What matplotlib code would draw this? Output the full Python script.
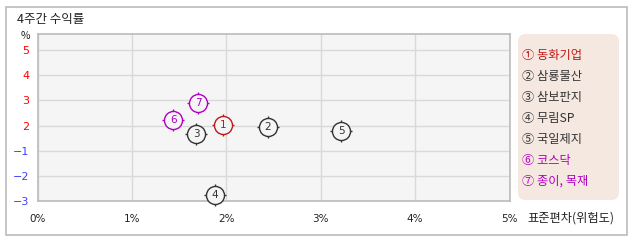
import matplotlib
matplotlib.use("Agg")
import matplotlib.pyplot as plt
from matplotlib.patches import FancyBboxPatch, Rectangle

plt.rcParams['font.family'] = ['Noto Sans CJK KR', 'DejaVu Sans']

# data (x = std dev %, y = position on the 4-week return axis)
names = ['동화기업', '삼룡물산', '삼보판지', '무림SP', '국일제지', '코스닥', '종이, 목재']
circled = ['①', '②', '③', '④', '⑤', '⑥', '⑦']
risk = [1.97, 2.44, 1.68, 1.88, 3.22, 1.44, 1.70]
ret = [2.04, 1.95, 1.67, -0.75, 1.79, 2.23, 2.89]
colors = ['#c01818', '#333333', '#333333', '#333333', '#333333', '#b000c0', '#b000c0']

ytick_pos = [5, 4, 3, 2, 1, 0, -1]
ytick_lab = ['5', '4', '3', '2', '\u22121', '\u22122', '\u22123']
ytick_col = ['#ff0000'] * 4 + ['#4040ff'] * 3
xtick_pos = [0, 1, 2, 3, 4, 5]
xtick_lab = ['0%', '1%', '2%', '3%', '4%', '5%']

W, H = 638, 242
fig = plt.figure(figsize=(W / 100, H / 100), dpi=100)

# outer frame
fig.patches.append(Rectangle((6 / W, 1 - 235 / H), 621 / W, 228 / H, transform=fig.transFigure,
                             fill=False, edgecolor='#bbbbbb', linewidth=1.2))
fig.text(17 / W, 1 - 20 / H, '4주간 수익률', fontsize=9, va='center', ha='left', color='#222222')

L, R, T, B = 37.5, 509.5, 34, 201
ax = fig.add_axes([L / W, 1 - B / H, (R - L) / W, (B - T) / H])
ax.set_facecolor('#f5f5f5')
ax.set_xlim(0, 5)
ax.set_ylim(-1, 5 + 16 / 25)
for s in ax.spines.values():
    s.set_color('#bbbbbb')
    s.set_linewidth(1.2)
ax.set_xticks(xtick_pos)
ax.set_yticks(ytick_pos)
ax.grid(True, color='#d9d9d9', linewidth=1)
ax.set_axisbelow(True)
ax.tick_params(length=0, pad=6)
ax.set_xticklabels(xtick_lab, fontsize=7.5, color='#222222', family='DejaVu Sans')
ax.set_yticklabels(ytick_lab, fontsize=8, family='DejaVu Sans')
for t, c in zip(ax.get_yticklabels(), ytick_col):
    t.set_color(c)
ax.tick_params(axis='x', pad=9)

for i in range(len(names)):
    ax.plot(risk[i], ret[i], marker='+', markersize=15.5, color=colors[i], mew=1, zorder=3, clip_on=False)
    ax.plot(risk[i], ret[i], marker='o', markersize=13, color=colors[i], mfc='#f5f5f5', mew=1,
            zorder=4, clip_on=False)
    ax.text(risk[i], ret[i], str(i + 1), fontsize=7.5, color=colors[i], ha='center', va='center',
            zorder=5, family='DejaVu Sans')

fig.text(25 / W, 1 - 36 / H, '%', fontsize=7.5, ha='center', va='center', color='#222222')
fig.text(527 / W, 1 - 218 / H, '표준편차(위험도)', fontsize=8.8, ha='left', va='center', color='#222222')

# legend box
fig.patches.append(FancyBboxPatch((518 / W, 1 - 200 / H), 101 / W, 166 / H, transform=fig.transFigure,
                                  boxstyle='round,pad=0,rounding_size=0.012',
                                  facecolor='#f5e8e0', edgecolor='none', mutation_aspect=W / H))
for i in range(len(names)):
    fig.text(522 / W, 1 - (55.5 + 21 * i) / H, circled[i] + ' ' + names[i], fontsize=8.8,
             ha='left', va='center', color=colors[i])

fig.savefig('out.png', dpi=100)
